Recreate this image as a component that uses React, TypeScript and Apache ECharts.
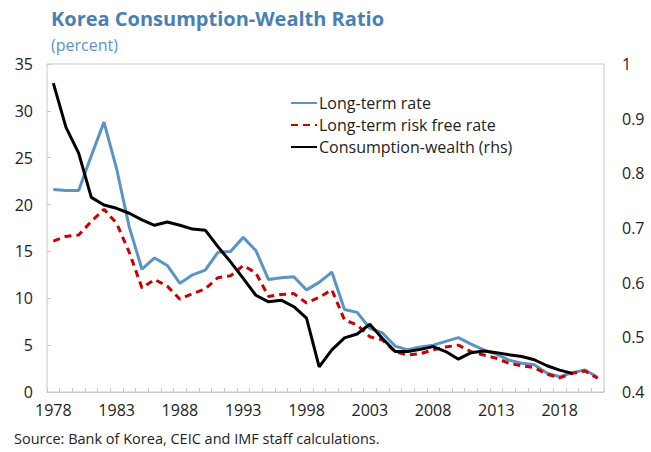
import React, { useEffect, useRef } from "react";
import * as echarts from "echarts";

const years: string[] = [];
for (let y = 1978; y <= 2021; y++) years.push(String(y));

const longTermRate = [
  21.6, 21.5, 21.5, 25.2, 28.8, 23.8, 17.6, 13.1, 14.3, 13.5, 11.6, 12.5, 13.0, 14.9, 15.0,
  16.5, 15.1, 12.0, 12.2, 12.3, 10.9, 11.7, 12.8, 8.8, 8.5, 6.8, 6.3, 4.9, 4.5, 4.8,
  5.0, 5.4, 5.8, 5.1, 4.5, 4.05, 3.4, 3.06, 2.9, 2.0, 1.63, 2.07, 2.35, 1.57,
];

const riskFreeRate = [
  16.1, 16.6, 16.75, 18.2, 19.5, 18.0, 14.9, 11.1, 12.0, 11.3, 9.9, 10.5, 11.0, 12.2, 12.4,
  13.5, 12.7, 10.2, 10.4, 10.5, 9.5, 10.1, 10.9, 7.7, 7.15, 5.9, 5.55, 4.3, 3.95, 4.1,
  4.5, 4.8, 5.0, 4.3, 3.95, 3.6, 3.06, 2.8, 2.6, 1.9, 1.5, 2.0, 2.24, 1.46,
];

const consumptionWealth: (number | null)[] = [
  0.965, 0.884, 0.837, 0.756, 0.742, 0.736, 0.727, 0.715, 0.705, 0.711, 0.705, 0.698, 0.696,
  0.666, 0.638, 0.608, 0.577, 0.565, 0.568, 0.556, 0.535, 0.446, 0.477, 0.499, 0.506, 0.524,
  0.498, 0.474, 0.474, 0.478, 0.483, 0.474, 0.46, 0.472, 0.475, 0.472, 0.468, 0.465, 0.459,
  0.448, 0.44, 0.434, null, null,
];

const FONT = "'Open Sans', 'Noto Sans', sans-serif";

export default function App() {
  const ref = useRef<HTMLDivElement>(null);
  useEffect(() => {
    if (!ref.current) return;
    const chart = echarts.init(ref.current, null, { renderer: "svg" });
    chart.setOption({
      animation: false,
      backgroundColor: "#ffffff",
      textStyle: { fontFamily: FONT },
      graphic: [
        {
          type: "text",
          left: 51,
          top: 8,
          style: {
            text: "Korea Consumption-Wealth Ratio",
            fontFamily: FONT,
            fontSize: 20,
            fontWeight: "bold",
            fill: "#4a7fb3",
          },
        },
        {
          type: "text",
          left: 51,
          top: 37,
          style: {
            text: "(percent)",
            fontFamily: FONT,
            fontSize: 16,
            fill: "#5b94c8",
          },
        },
        {
          type: "text",
          left: 14,
          top: 431,
          style: {
            text: "Source: Bank of Korea, CEIC and IMF staff calculations.",
            fontFamily: FONT,
            fontSize: 14.5,
            fill: "#222",
          },
        },
      ],
      legend: {
        orient: "vertical",
        left: 285,
        top: 90,
        itemWidth: 26,
        itemHeight: 10,
        itemGap: 6,
        itemStyle: { opacity: 0 },
        textStyle: { fontFamily: FONT, fontSize: 16, color: "#222", padding: [0, 0, 0, -3] },
        data: ["Long-term rate", "Long-term risk free rate", "Consumption-wealth (rhs)"],
      },
      grid: {
        left: 47,
        right: 47,
        top: 64,
        bottom: 60,
        show: true,
        borderColor: "#c8c8c8",
        borderWidth: 1,
      },
      xAxis: {
        type: "category",
        data: years,
        boundaryGap: true,
        axisLine: { show: true, lineStyle: { color: "#c8c8c8" } },
        axisTick: { show: true, inside: true, length: 4, interval: 0, lineStyle: { color: "#c8c8c8" } },
        axisLabel: { interval: 4, fontSize: 16, color: "#222", margin: 10, fontFamily: FONT },
        splitLine: { show: false },
      },
      yAxis: [
        {
          type: "value",
          min: 0,
          max: 35,
          interval: 5,
          axisLine: { show: false },
          axisTick: { show: true, inside: true, length: 4, lineStyle: { color: "#c8c8c8" } },
          axisLabel: { fontSize: 16, color: "#222", margin: 14, fontFamily: FONT },
          splitLine: { show: false },
        },
        {
          type: "value",
          min: 0.4,
          max: 1,
          interval: 0.1,
          position: "right",
          axisLine: { show: false },
          axisTick: { show: false },
          axisLabel: {
            fontSize: 16,
            color: "#222",
            margin: 18,
            fontFamily: FONT,
            formatter: (v: number) => String(Math.round(v * 10) / 10),
          },
          splitLine: { show: false },
        },
      ],
      series: [
        {
          name: "Long-term rate",
          type: "line",
          data: longTermRate,
          symbol: "none",
          lineStyle: { color: "#5b93c4", width: 3 },
          itemStyle: { color: "#5b93c4" },
        },
        {
          name: "Long-term risk free rate",
          type: "line",
          data: riskFreeRate,
          symbol: "none",
          lineStyle: { color: "#cc0000", width: 3, type: [7, 5] },
          itemStyle: { color: "#cc0000" },
        },
        {
          name: "Consumption-wealth (rhs)",
          type: "line",
          yAxisIndex: 1,
          data: consumptionWealth,
          symbol: "none",
          lineStyle: { color: "#000000", width: 3 },
          itemStyle: { color: "#000000" },
        },
      ],
    });
    return () => chart.dispose();
  }, []);
  return (
    <div
      ref={ref}
      style={{ position: "fixed", left: 0, top: 0, width: 651, height: 452 }}
    />
  );
}
